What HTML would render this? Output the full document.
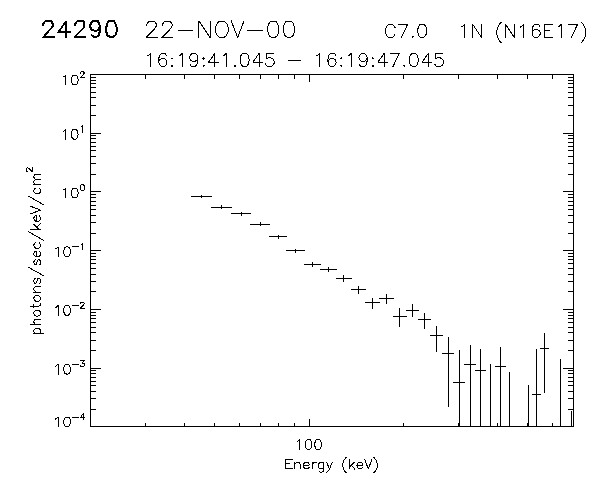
<!DOCTYPE html>
<html lang="en"><head><meta charset="utf-8"><title>24290 22-NOV-00 photon spectrum</title>
<style>
html,body{margin:0;padding:0;background:#fff;font-family:"Liberation Sans",sans-serif;}
body{width:600px;height:480px;overflow:hidden;}
svg{display:block;shape-rendering:crispEdges;}
svg path{fill:none;stroke:#000;stroke-width:1;stroke-linecap:square;stroke-linejoin:miter;}
svg .ax,svg .data{stroke-linecap:butt;}
svg .t path{stroke-linejoin:round;}
</style></head><body>
<svg width="600" height="480" viewBox="0 0 600 480" role="img" aria-label="Photon spectrum, photons/sec/keV/cm2 versus Energy (keV)">
<rect x="0" y="0" width="600" height="480" fill="#fff" stroke="none"/>
<path class="ax" d="M90 74.5H574 M90 426.5H574 M90.5 74V427 M573.5 74V427 M145.5 423V427 M145.5 74V79 M184.5 423V427 M184.5 74V79 M214.5 423V427 M214.5 74V79 M239.5 423V427 M239.5 74V79 M260.5 423V427 M260.5 74V79 M278.5 423V427 M278.5 74V79 M294.5 423V427 M294.5 74V79 M309.5 419V427 M309.5 74V82 M403.5 423V427 M403.5 74V79 M458.5 423V427 M458.5 74V79 M497.5 423V427 M497.5 74V79 M527.5 423V427 M527.5 74V79 M552.5 423V427 M552.5 74V79 M90 409.5H96 M568 409.5H574 M90 398.5H96 M568 398.5H574 M90 391.5H96 M568 391.5H574 M90 385.5H96 M568 385.5H574 M90 381.5H96 M568 381.5H574 M90 377.5H96 M568 377.5H574 M90 373.5H96 M568 373.5H574 M90 370.5H96 M568 370.5H574 M90 368.5H101 M563 368.5H574 M90 350.5H96 M568 350.5H574 M90 340.5H96 M568 340.5H574 M90 332.5H96 M568 332.5H574 M90 327.5H96 M568 327.5H574 M90 322.5H96 M568 322.5H574 M90 318.5H96 M568 318.5H574 M90 315.5H96 M568 315.5H574 M90 312.5H96 M568 312.5H574 M90 309.5H101 M563 309.5H574 M90 291.5H96 M568 291.5H574 M90 281.5H96 M568 281.5H574 M90 274.5H96 M568 274.5H574 M90 268.5H96 M568 268.5H574 M90 263.5H96 M568 263.5H574 M90 259.5H96 M568 259.5H574 M90 256.5H96 M568 256.5H574 M90 253.5H96 M568 253.5H574 M90 250.5H101 M563 250.5H574 M90 233.5H96 M568 233.5H574 M90 222.5H96 M568 222.5H574 M90 215.5H96 M568 215.5H574 M90 209.5H96 M568 209.5H574 M90 205.5H96 M568 205.5H574 M90 201.5H96 M568 201.5H574 M90 197.5H96 M568 197.5H574 M90 194.5H96 M568 194.5H574 M90 191.5H101 M563 191.5H574 M90 174.5H96 M568 174.5H574 M90 163.5H96 M568 163.5H574 M90 156.5H96 M568 156.5H574 M90 150.5H96 M568 150.5H574 M90 146.5H96 M568 146.5H574 M90 142.5H96 M568 142.5H574 M90 138.5H96 M568 138.5H574 M90 135.5H96 M568 135.5H574 M90 133.5H101 M563 133.5H574 M90 115.5H96 M568 115.5H574 M90 105.5H96 M568 105.5H574 M90 97.5H96 M568 97.5H574 M90 92.5H96 M568 92.5H574 M90 87.5H96 M568 87.5H574 M90 83.5H96 M568 83.5H574 M90 80.5H96 M568 80.5H574 M90 77.5H96 M568 77.5H574"/>
<path class="data" d="M191 196.5H212 M201.5 195V198 M211 207.5H232 M221.5 205V209 M231 213.5H251 M241.5 212V216 M250 224.5H270 M260.5 222V226 M269 236.5H287 M278.5 235V239 M286 250.5H305 M295.5 249V253 M304 264.5H321 M312.5 262V267 M320 269.5H337 M328.5 267V272 M336 278.5H352 M343.5 275V282 M351 289.5H366 M358.5 286V294 M365 302.5H380 M372.5 298V309 M379 298.5H394 M386.5 294V304 M393 316.5H407 M399.5 308V327 M406 310.5H419 M412.5 304V317 M418 319.5H431 M424.5 313V329 M430 335.5H443 M436.5 326V352 M442 353.5H454 M448.5 337V407 M453 382.5H465 M459.5 350V427 M464 364.5H476 M470.5 345V427 M475 370.5H486 M480.5 349V427 M490.5 364V427 M495 366.5H506 M500.5 347V427 M509.5 372V427 M528.5 385V427 M532 394.5H541 M536.5 349V427 M540 348.5H549 M544.5 333V393 M560.5 359V427 M571.5 411V427"/>
<g class="t" role="img" aria-label="24290"><title>24290</title><path d="M43.5 25.5L43.5 24.5M42.5 25.5L42.5 24.5M43.5 24.5L44.5 22.5M42.5 24.5L43.5 22.5M44.5 22.5L45.5 21.5M44.5 21.5L45.5 20.5M45.5 21.5L47.5 21.5M45.5 20.5L47.5 20.5M47.5 21.5L50.5 21.5M47.5 20.5L50.5 20.5M50.5 21.5L51.5 21.5M50.5 20.5L51.5 20.5M51.5 21.5L52.5 22.5M51.5 20.5L52.5 21.5M52.5 22.5L53.5 24.5M51.5 22.5L52.5 24.5M53.5 24.5L53.5 25.5M52.5 24.5L52.5 25.5M53.5 25.5L52.5 27.5M52.5 25.5L51.5 27.5M52.5 27.5L50.5 29.5M52.5 26.5L50.5 28.5M50.5 29.5L43.5 37.5M49.5 29.5L42.5 37.5M43.5 37.5L54.5 37.5M43.5 36.5L54.5 36.5M66.5 21.5L58.5 32.5M65.5 21.5L57.5 32.5M58.5 32.5L70.5 32.5M58.5 31.5L70.5 31.5M66.5 21.5L66.5 37.5M65.5 21.5L65.5 37.5M75.5 25.5L75.5 24.5M74.5 25.5L74.5 24.5M75.5 24.5L76.5 22.5M74.5 24.5L75.5 22.5M76.5 22.5L77.5 21.5M76.5 21.5L77.5 20.5M77.5 21.5L78.5 21.5M77.5 20.5L78.5 20.5M78.5 21.5L81.5 21.5M78.5 20.5L81.5 20.5M81.5 21.5L83.5 21.5M81.5 20.5L83.5 20.5M83.5 21.5L84.5 22.5M83.5 20.5L84.5 21.5M84.5 22.5L84.5 24.5M83.5 22.5L83.5 24.5M84.5 24.5L84.5 25.5M83.5 24.5L83.5 25.5M84.5 25.5L84.5 27.5M83.5 25.5L83.5 27.5M84.5 27.5L82.5 29.5M84.5 26.5L82.5 28.5M82.5 29.5L74.5 37.5M82.5 28.5L74.5 36.5M74.5 37.5L85.5 37.5M74.5 36.5L85.5 36.5M100.5 26.5L99.5 28.5M99.5 26.5L98.5 28.5M99.5 28.5L98.5 30.5M98.5 28.5L97.5 30.5M98.5 30.5L95.5 31.5M98.5 29.5L95.5 30.5M95.5 31.5L92.5 30.5M95.5 30.5L92.5 29.5M92.5 30.5L91.5 28.5M91.5 30.5L90.5 28.5M91.5 28.5L90.5 26.5M90.5 28.5L89.5 26.5M90.5 26.5L90.5 25.5M89.5 26.5L89.5 25.5M90.5 25.5L91.5 23.5M89.5 25.5L90.5 23.5M91.5 23.5L92.5 21.5M90.5 23.5L91.5 21.5M92.5 21.5L95.5 21.5M92.5 20.5L95.5 20.5M95.5 21.5L98.5 21.5M95.5 20.5L98.5 20.5M98.5 21.5L99.5 23.5M97.5 21.5L98.5 23.5M99.5 23.5L100.5 26.5M98.5 23.5L99.5 26.5M100.5 26.5L100.5 30.5M99.5 26.5L99.5 30.5M100.5 30.5L99.5 34.5M99.5 30.5L98.5 34.5M99.5 34.5L98.5 36.5M98.5 34.5L97.5 36.5M98.5 36.5L95.5 37.5M98.5 35.5L95.5 36.5M95.5 37.5L94.5 37.5M95.5 36.5L94.5 36.5M94.5 37.5L92.5 36.5M94.5 36.5L92.5 35.5M92.5 36.5L91.5 35.5M92.5 35.5L91.5 34.5M110.5 21.5L108.5 21.5M110.5 20.5L108.5 20.5M108.5 21.5L107.5 24.5M107.5 21.5L106.5 24.5M107.5 24.5L106.5 28.5M106.5 24.5L105.5 28.5M106.5 28.5L106.5 30.5M105.5 28.5L105.5 30.5M106.5 30.5L107.5 34.5M105.5 30.5L106.5 34.5M107.5 34.5L108.5 36.5M106.5 34.5L107.5 36.5M108.5 36.5L110.5 37.5M108.5 35.5L110.5 36.5M110.5 37.5L112.5 37.5M110.5 36.5L112.5 36.5M112.5 37.5L114.5 36.5M112.5 36.5L114.5 35.5M114.5 36.5L116.5 34.5M114.5 35.5L116.5 33.5M116.5 34.5L117.5 30.5M115.5 34.5L116.5 30.5M117.5 30.5L117.5 28.5M116.5 30.5L116.5 28.5M117.5 28.5L116.5 24.5M116.5 28.5L115.5 24.5M116.5 24.5L114.5 21.5M115.5 24.5L113.5 21.5M114.5 21.5L112.5 21.5M114.5 20.5L112.5 20.5M112.5 21.5L110.5 21.5M112.5 20.5L110.5 20.5"/></g>
<g class="t" role="img" aria-label="22-NOV-00"><title>22-NOV-00</title><path d="M146.86 25 L146.86 24.22 L147.65 22.66 L148.44 21.88 L150.02 21.09 L153.17 21.09 L154.75 21.88 L155.54 22.66 L156.33 24.22 L156.33 25.78 L155.54 27.34 L153.96 29.69 L146.07 37.5 L157.12 37.5 M162.65 25 L162.65 24.22 L163.44 22.66 L164.23 21.88 L165.81 21.09 L168.96 21.09 L170.54 21.88 L171.33 22.66 L172.12 24.22 L172.12 25.78 L171.33 27.34 L169.75 29.69 L161.86 37.5 L172.91 37.5 M178.44 30.47 L192.65 30.47 M198.96 21.09 L198.96 37.5 M198.96 21.09 L210.02 37.5 M210.02 21.09 L210.02 37.5 M220.28 21.09 L218.7 21.88 L217.12 23.44 L216.33 25 L215.54 27.34 L215.54 31.25 L216.33 33.59 L217.12 35.16 L218.7 36.72 L220.28 37.5 L223.44 37.5 L225.02 36.72 L226.59 35.16 L227.38 33.59 L228.17 31.25 L228.17 27.34 L227.38 25 L226.59 23.44 L225.02 21.88 L223.44 21.09Z M231.33 21.09 L237.65 37.5 M243.96 21.09 L237.65 37.5 M247.91 30.47 L262.12 30.47 M272.38 21.09 L270.02 21.88 L268.44 24.22 L267.65 28.12 L267.65 30.47 L268.44 34.38 L270.02 36.72 L272.38 37.5 L273.96 37.5 L276.33 36.72 L277.91 34.38 L278.7 30.47 L278.7 28.12 L277.91 24.22 L276.33 21.88 L273.96 21.09Z M288.17 21.09 L285.81 21.88 L284.23 24.22 L283.44 28.12 L283.44 30.47 L284.23 34.38 L285.81 36.72 L288.17 37.5 L289.75 37.5 L292.12 36.72 L293.7 34.38 L294.49 30.47 L294.49 28.12 L293.7 24.22 L292.12 21.88 L289.75 21.09Z"/></g>
<g class="t" role="img" aria-label="C7.0"><title>C7.0</title><path d="M394.97 27.5 L394.34 26.25 L393.07 25 L391.81 24.38 L389.28 24.38 L388.02 25 L386.76 26.25 L386.13 27.5 L385.49 29.38 L385.49 32.5 L386.13 34.38 L386.76 35.62 L388.02 36.88 L389.28 37.5 L391.81 37.5 L393.07 36.88 L394.34 35.62 L394.97 34.38 M407.6 24.38 L401.28 37.5 M398.76 24.38 L407.6 24.38 M412.65 36.25 L412.02 36.88 L412.65 37.5 L413.28 36.88Z M421.49 24.38 L419.6 25 L418.34 26.88 L417.71 30 L417.71 31.88 L418.34 35 L419.6 36.88 L421.49 37.5 L422.76 37.5 L424.65 36.88 L425.92 35 L426.55 31.88 L426.55 30 L425.92 26.88 L424.65 25 L422.76 24.38Z"/></g>
<g class="t" role="img" aria-label="1N (N16E17)"><title>1N (N16E17)</title><path d="M461.34 26.88 L462.61 26.25 L464.5 24.38 L464.5 37.5 M472.71 24.38 L472.71 37.5 M472.71 24.38 L481.55 37.5 M481.55 24.38 L481.55 37.5 M501.13 22.5 L499.87 23.75 L498.61 25.62 L497.34 28.12 L496.71 31.25 L496.71 33.75 L497.34 36.88 L498.61 39.38 L499.87 41.25 L501.13 42.5 M505.55 24.38 L505.55 37.5 M505.55 24.38 L514.39 37.5 M514.39 24.38 L514.39 37.5 M520.71 26.88 L521.97 26.25 L523.87 24.38 L523.87 37.5 M539.66 26.25 L539.03 25 L537.13 24.38 L535.87 24.38 L533.97 25 L532.71 26.88 L532.08 30 L532.08 33.12 L532.71 35.62 L533.97 36.88 L535.87 37.5 L536.5 37.5 L538.39 36.88 L539.66 35.62 L540.29 33.75 L540.29 33.12 L539.66 31.25 L538.39 30 L536.5 29.38 L535.87 29.38 L533.97 30 L532.71 31.25 L532.08 33.12 M544.71 24.38 L544.71 37.5 M544.71 24.38 L552.92 24.38 M544.71 30.62 L549.76 30.62 M544.71 37.5 L552.92 37.5 M557.97 26.88 L559.24 26.25 L561.13 24.38 L561.13 37.5 M577.55 24.38 L571.24 37.5 M568.71 24.38 L577.55 24.38 M581.34 22.5 L582.61 23.75 L583.87 25.62 L585.13 28.12 L585.76 31.25 L585.76 33.75 L585.13 36.88 L583.87 39.38 L582.61 41.25 L581.34 42.5"/></g>
<g class="t" role="img" aria-label="16:19:41.045 - 16:19:47.045"><title>16:19:41.045 - 16:19:47.045</title><path d="M147.34 55.88 L148.61 55.25 L150.5 53.38 L150.5 66.5 M166.29 55.25 L165.66 54 L163.76 53.38 L162.5 53.38 L160.61 54 L159.34 55.88 L158.71 59 L158.71 62.12 L159.34 64.62 L160.61 65.88 L162.5 66.5 L163.13 66.5 L165.03 65.88 L166.29 64.62 L166.92 62.75 L166.92 62.12 L166.29 60.25 L165.03 59 L163.13 58.38 L162.5 58.38 L160.61 59 L159.34 60.25 L158.71 62.12 M171.97 57.75 L171.34 58.38 L171.97 59 L172.61 58.38Z M171.97 65.25 L171.34 65.88 L171.97 66.5 L172.61 65.88Z M178.92 55.88 L180.18 55.25 L182.08 53.38 L182.08 66.5 M197.87 57.75 L197.24 59.62 L195.97 60.88 L194.08 61.5 L193.45 61.5 L191.55 60.88 L190.29 59.62 L189.66 57.75 L189.66 57.12 L190.29 55.25 L191.55 54 L193.45 53.38 L194.08 53.38 L195.97 54 L197.24 55.25 L197.87 57.75 L197.87 60.88 L197.24 64 L195.97 65.88 L194.08 66.5 L192.82 66.5 L190.92 65.88 L190.29 64.62 M203.55 57.75 L202.92 58.38 L203.55 59 L204.18 58.38Z M203.55 65.25 L202.92 65.88 L203.55 66.5 L204.18 65.88Z M214.92 53.38 L208.61 62.12 L218.08 62.12 M214.92 53.38 L214.92 66.5 M223.13 55.88 L224.39 55.25 L226.29 53.38 L226.29 66.5 M235.13 65.25 L234.5 65.88 L235.13 66.5 L235.76 65.88Z M243.97 53.38 L242.08 54 L240.82 55.88 L240.18 59 L240.18 60.88 L240.82 64 L242.08 65.88 L243.97 66.5 L245.24 66.5 L247.13 65.88 L248.39 64 L249.03 60.88 L249.03 59 L248.39 55.88 L247.13 54 L245.24 53.38Z M259.13 53.38 L252.82 62.12 L262.29 62.12 M259.13 53.38 L259.13 66.5 M273.03 53.38 L266.71 53.38 L266.08 59 L266.71 58.38 L268.61 57.75 L270.5 57.75 L272.39 58.38 L273.66 59.62 L274.29 61.5 L274.29 62.75 L273.66 64.62 L272.39 65.88 L270.5 66.5 L268.61 66.5 L266.71 65.88 L266.08 65.25 L265.45 64 M288.82 60.88 L300.18 60.88 M316.61 55.88 L317.87 55.25 L319.76 53.38 L319.76 66.5 M335.55 55.25 L334.92 54 L333.03 53.38 L331.76 53.38 L329.87 54 L328.61 55.88 L327.97 59 L327.97 62.12 L328.61 64.62 L329.87 65.88 L331.76 66.5 L332.39 66.5 L334.29 65.88 L335.55 64.62 L336.18 62.75 L336.18 62.12 L335.55 60.25 L334.29 59 L332.39 58.38 L331.76 58.38 L329.87 59 L328.61 60.25 L327.97 62.12 M341.24 57.75 L340.61 58.38 L341.24 59 L341.87 58.38Z M341.24 65.25 L340.61 65.88 L341.24 66.5 L341.87 65.88Z M348.18 55.88 L349.45 55.25 L351.34 53.38 L351.34 66.5 M367.13 57.75 L366.5 59.62 L365.24 60.88 L363.34 61.5 L362.71 61.5 L360.82 60.88 L359.55 59.62 L358.92 57.75 L358.92 57.12 L359.55 55.25 L360.82 54 L362.71 53.38 L363.34 53.38 L365.24 54 L366.5 55.25 L367.13 57.75 L367.13 60.88 L366.5 64 L365.24 65.88 L363.34 66.5 L362.08 66.5 L360.18 65.88 L359.55 64.62 M372.82 57.75 L372.18 58.38 L372.82 59 L373.45 58.38Z M372.82 65.25 L372.18 65.88 L372.82 66.5 L373.45 65.88Z M384.18 53.38 L377.87 62.12 L387.34 62.12 M384.18 53.38 L384.18 66.5 M399.34 53.38 L393.03 66.5 M390.5 53.38 L399.34 53.38 M404.39 65.25 L403.76 65.88 L404.39 66.5 L405.03 65.88Z M413.24 53.38 L411.34 54 L410.08 55.88 L409.45 59 L409.45 60.88 L410.08 64 L411.34 65.88 L413.24 66.5 L414.5 66.5 L416.39 65.88 L417.66 64 L418.29 60.88 L418.29 59 L417.66 55.88 L416.39 54 L414.5 53.38Z M428.39 53.38 L422.08 62.12 L431.55 62.12 M428.39 53.38 L428.39 66.5 M442.29 53.38 L435.97 53.38 L435.34 59 L435.97 58.38 L437.87 57.75 L439.76 57.75 L441.66 58.38 L442.92 59.62 L443.55 61.5 L443.55 62.75 L442.92 64.62 L441.66 65.88 L439.76 66.5 L437.87 66.5 L435.97 65.88 L435.34 65.25 L434.71 64"/></g>
<g class="t" role="img" aria-label="10^2"><title>10^2</title><path d="M63.32 76.93 L64.27 76.46 L65.69 75.06 L65.69 84.9 M74.22 75.06 L72.79 75.53 L71.85 76.93 L71.37 79.28 L71.37 80.68 L71.85 83.03 L72.79 84.43 L74.22 84.9 L75.16 84.9 L76.58 84.43 L77.53 83.03 L78.01 80.68 L78.01 79.28 L77.53 76.93 L76.58 75.53 L75.16 75.06Z M80.6 73.05 L80.6 72.76 L80.89 72.18 L81.19 71.89 L81.78 71.6 L82.95 71.6 L83.54 71.89 L83.83 72.18 L84.13 72.76 L84.13 73.34 L83.83 73.92 L83.24 74.79 L80.31 77.7 L84.42 77.7"/></g>
<g class="t" role="img" aria-label="10^1"><title>10^1</title><path d="M63.32 131.27 L64.27 130.8 L65.69 129.4 L65.69 139.24 M74.22 129.4 L72.79 129.87 L71.85 131.27 L71.37 133.62 L71.37 135.02 L71.85 137.37 L72.79 138.77 L74.22 139.24 L75.16 139.24 L76.58 138.77 L77.53 137.37 L78.01 135.02 L78.01 133.62 L77.53 131.27 L76.58 129.87 L75.16 129.4Z M81.19 127.1 L81.78 126.81 L82.66 125.94 L82.66 132.04"/></g>
<g class="t" role="img" aria-label="10^0"><title>10^0</title><path d="M63.32 189.97 L64.27 189.5 L65.69 188.1 L65.69 197.94 M74.22 188.1 L72.79 188.56 L71.85 189.97 L71.37 192.31 L71.37 193.72 L71.85 196.06 L72.79 197.47 L74.22 197.94 L75.16 197.94 L76.58 197.47 L77.53 196.06 L78.01 193.72 L78.01 192.31 L77.53 189.97 L76.58 188.56 L75.16 188.1Z M82.07 184.64 L81.19 184.93 L80.6 185.8 L80.31 187.25 L80.31 188.12 L80.6 189.58 L81.19 190.45 L82.07 190.74 L82.66 190.74 L83.54 190.45 L84.13 189.58 L84.42 188.12 L84.42 187.25 L84.13 185.8 L83.54 184.93 L82.66 184.64Z"/></g>
<g class="t" role="img" aria-label="10^-1"><title>10^-1</title><path d="M55.69 248.67 L56.63 248.2 L58.05 246.8 L58.05 256.64 M66.58 246.8 L65.16 247.27 L64.21 248.67 L63.74 251.02 L63.74 252.42 L64.21 254.77 L65.16 256.17 L66.58 256.64 L67.53 256.64 L68.95 256.17 L69.9 254.77 L70.37 252.42 L70.37 251.02 L69.9 248.67 L68.95 247.27 L67.53 246.8Z M72.97 246.82 L78.25 246.82 M81.19 244.5 L81.78 244.21 L82.66 243.34 L82.66 249.44"/></g>
<g class="t" role="img" aria-label="10^-2"><title>10^-2</title><path d="M55.69 307.37 L56.63 306.9 L58.05 305.5 L58.05 315.34 M66.58 305.5 L65.16 305.96 L64.21 307.37 L63.74 309.71 L63.74 311.12 L64.21 313.46 L65.16 314.87 L66.58 315.34 L67.53 315.34 L68.95 314.87 L69.9 313.46 L70.37 311.12 L70.37 309.71 L69.9 307.37 L68.95 305.96 L67.53 305.5Z M72.97 305.52 L78.25 305.52 M80.6 303.49 L80.6 303.2 L80.89 302.62 L81.19 302.33 L81.78 302.04 L82.95 302.04 L83.54 302.33 L83.83 302.62 L84.13 303.2 L84.13 303.78 L83.83 304.36 L83.24 305.23 L80.31 308.14 L84.42 308.14"/></g>
<g class="t" role="img" aria-label="10^-3"><title>10^-3</title><path d="M55.69 366.07 L56.63 365.6 L58.05 364.2 L58.05 374.04 M66.58 364.2 L65.16 364.67 L64.21 366.07 L63.74 368.42 L63.74 369.82 L64.21 372.17 L65.16 373.57 L66.58 374.04 L67.53 374.04 L68.95 373.57 L69.9 372.17 L70.37 369.82 L70.37 368.42 L69.9 366.07 L68.95 364.67 L67.53 364.2Z M72.97 364.22 L78.25 364.22 M80.89 360.74 L84.13 360.74 L82.36 363.06 L83.24 363.06 L83.83 363.35 L84.13 363.64 L84.42 364.52 L84.42 365.1 L84.13 365.97 L83.54 366.55 L82.66 366.84 L81.78 366.84 L80.89 366.55 L80.6 366.26 L80.31 365.68"/></g>
<g class="t" role="img" aria-label="10^-4"><title>10^-4</title><path d="M55.69 418.93 L56.63 418.46 L58.05 417.06 L58.05 426.9 M66.58 417.06 L65.16 417.52 L64.21 418.93 L63.74 421.27 L63.74 422.68 L64.21 425.02 L65.16 426.43 L66.58 426.9 L67.53 426.9 L68.95 426.43 L69.9 425.02 L70.37 422.68 L70.37 421.27 L69.9 418.93 L68.95 417.52 L67.53 417.06Z M72.97 417.08 L78.25 417.08 M83.24 413.6 L80.31 417.67 L84.71 417.67 M83.24 413.6 L83.24 419.7"/></g>
<g class="t" role="img" aria-label="100"><title>100</title><path d="M297.24 441.43 L298.19 440.96 L299.61 439.56 L299.61 449.4 M308.14 439.56 L306.72 440.02 L305.77 441.43 L305.29 443.77 L305.29 445.18 L305.77 447.52 L306.72 448.93 L308.14 449.4 L309.08 449.4 L310.51 448.93 L311.45 447.52 L311.93 445.18 L311.93 443.77 L311.45 441.43 L310.51 440.02 L309.08 439.56Z M317.61 439.56 L316.19 440.02 L315.24 441.43 L314.77 443.77 L314.77 445.18 L315.24 447.52 L316.19 448.93 L317.61 449.4 L318.56 449.4 L319.98 448.93 L320.93 447.52 L321.4 445.18 L321.4 443.77 L320.93 441.43 L319.98 440.02 L318.56 439.56Z"/></g>
<g class="t" role="img" aria-label="Energy (keV)"><title>Energy (keV)</title><path d="M285.89 459.06 L285.89 468.9 M285.89 459.06 L292.05 459.06 M285.89 463.74 L289.68 463.74 M285.89 468.9 L292.05 468.9 M294.89 462.34 L294.89 468.9 M294.89 464.21 L296.32 462.81 L297.26 462.34 L298.68 462.34 L299.63 462.81 L300.11 464.21 L300.11 468.9 M303.42 465.15 L309.11 465.15 L309.11 464.21 L308.63 463.27 L308.16 462.81 L307.21 462.34 L305.79 462.34 L304.84 462.81 L303.89 463.74 L303.42 465.15 L303.42 466.09 L303.89 467.49 L304.84 468.43 L305.79 468.9 L307.21 468.9 L308.16 468.43 L309.11 467.49 M312.42 462.34 L312.42 468.9 M312.42 465.15 L312.89 463.74 L313.84 462.81 L314.79 462.34 L316.21 462.34 M323.79 462.34 L323.79 469.84 L323.32 471.24 L322.84 471.71 L321.89 472.18 L320.47 472.18 L319.53 471.71 M323.79 463.74 L322.84 462.81 L321.89 462.34 L320.47 462.34 L319.53 462.81 L318.58 463.74 L318.11 465.15 L318.11 466.09 L318.58 467.49 L319.53 468.43 L320.47 468.9 L321.89 468.9 L322.84 468.43 L323.79 467.49 M326.63 462.34 L329.47 468.9 M332.32 462.34 L329.47 468.9 L328.53 470.77 L327.58 471.71 L326.63 472.18 L326.16 472.18 M346.05 457.65 L345.11 458.59 L344.16 459.99 L343.21 461.87 L342.74 464.21 L342.74 466.09 L343.21 468.43 L344.16 470.31 L345.11 471.71 L346.05 472.65 M349.37 459.06 L349.37 468.9 M354.11 462.34 L349.37 467.02 M351.26 465.15 L354.58 468.9 M356.95 465.15 L362.63 465.15 L362.63 464.21 L362.16 463.27 L361.68 462.81 L360.74 462.34 L359.32 462.34 L358.37 462.81 L357.42 463.74 L356.95 465.15 L356.95 466.09 L357.42 467.49 L358.37 468.43 L359.32 468.9 L360.74 468.9 L361.68 468.43 L362.63 467.49 M364.53 459.06 L368.32 468.9 M372.11 459.06 L368.32 468.9 M374 457.65 L374.95 458.59 L375.89 459.99 L376.84 461.87 L377.32 464.21 L377.32 466.09 L376.84 468.43 L375.89 470.31 L374.95 471.71 L374 472.65"/></g>
<g class="t" role="img" aria-label="photons/sec/keV/cm^2"><title>photons/sec/keV/cm^2</title><path d="M33.94 333.71 L43.78 333.71 M35.34 333.71 L34.41 332.76 L33.94 331.81 L33.94 330.39 L34.41 329.44 L35.34 328.49 L36.75 328.02 L37.69 328.02 L39.09 328.49 L40.03 329.44 L40.5 330.39 L40.5 331.81 L40.03 332.76 L39.09 333.71 M30.66 324.71 L40.5 324.71 M35.81 324.71 L34.41 323.28 L33.94 322.34 L33.94 320.92 L34.41 319.97 L35.81 319.49 L40.5 319.49 M33.94 313.81 L34.41 314.76 L35.34 315.71 L36.75 316.18 L37.69 316.18 L39.09 315.71 L40.03 314.76 L40.5 313.81 L40.5 312.39 L40.03 311.44 L39.09 310.49 L37.69 310.02 L36.75 310.02 L35.34 310.49 L34.41 311.44 L33.94 312.39Z M30.66 306.23 L38.62 306.23 L40.03 305.76 L40.5 304.81 L40.5 303.86 M33.94 307.65 L33.94 304.34 M33.94 299.13 L34.41 300.07 L35.34 301.02 L36.75 301.49 L37.69 301.49 L39.09 301.02 L40.03 300.07 L40.5 299.13 L40.5 297.71 L40.03 296.76 L39.09 295.81 L37.69 295.34 L36.75 295.34 L35.34 295.81 L34.41 296.76 L33.94 297.71Z M33.94 292.02 L40.5 292.02 M35.81 292.02 L34.41 290.6 L33.94 289.65 L33.94 288.23 L34.41 287.28 L35.81 286.81 L40.5 286.81 M35.34 278.28 L34.41 278.76 L33.94 280.18 L33.94 281.6 L34.41 283.02 L35.34 283.49 L36.28 283.02 L36.75 282.07 L37.22 279.71 L37.69 278.76 L38.62 278.28 L39.09 278.28 L40.03 278.76 L40.5 280.18 L40.5 281.6 L40.03 283.02 L39.09 283.49 M28.78 267.39 L43.78 275.92 M35.34 259.81 L34.41 260.28 L33.94 261.71 L33.94 263.13 L34.41 264.55 L35.34 265.02 L36.28 264.55 L36.75 263.6 L37.22 261.23 L37.69 260.28 L38.62 259.81 L39.09 259.81 L40.03 260.28 L40.5 261.71 L40.5 263.13 L40.03 264.55 L39.09 265.02 M36.75 256.97 L36.75 251.28 L35.81 251.28 L34.88 251.76 L34.41 252.23 L33.94 253.18 L33.94 254.6 L34.41 255.55 L35.34 256.49 L36.75 256.97 L37.69 256.97 L39.09 256.49 L40.03 255.55 L40.5 254.6 L40.5 253.18 L40.03 252.23 L39.09 251.28 M35.34 242.76 L34.41 243.71 L33.94 244.65 L33.94 246.07 L34.41 247.02 L35.34 247.97 L36.75 248.44 L37.69 248.44 L39.09 247.97 L40.03 247.02 L40.5 246.07 L40.5 244.65 L40.03 243.71 L39.09 242.76 M28.78 231.86 L43.78 240.39 M30.66 229.02 L40.5 229.02 M33.94 224.28 L38.62 229.02 M36.75 227.13 L40.5 223.81 M36.75 221.44 L36.75 215.76 L35.81 215.76 L34.88 216.23 L34.41 216.71 L33.94 217.65 L33.94 219.07 L34.41 220.02 L35.34 220.97 L36.75 221.44 L37.69 221.44 L39.09 220.97 L40.03 220.02 L40.5 219.07 L40.5 217.65 L40.03 216.71 L39.09 215.76 M30.66 213.86 L40.5 210.07 M30.66 206.28 L40.5 210.07 M28.78 196.34 L43.78 204.86 M35.34 188.28 L34.41 189.23 L33.94 190.18 L33.94 191.6 L34.41 192.55 L35.34 193.49 L36.75 193.97 L37.69 193.97 L39.09 193.49 L40.03 192.55 L40.5 191.6 L40.5 190.18 L40.03 189.23 L39.09 188.28 M33.94 184.97 L40.5 184.97 M35.81 184.97 L34.41 183.55 L33.94 182.6 L33.94 181.18 L34.41 180.23 L35.81 179.76 L40.5 179.76 M35.81 179.76 L34.41 178.34 L33.94 177.39 L33.94 175.97 L34.41 175.02 L35.81 174.55 L40.5 174.55 M27.75 171.48 L27.46 171.48 L26.88 171.18 L26.59 170.89 L26.3 170.3 L26.3 169.13 L26.59 168.54 L26.88 168.25 L27.46 167.95 L28.04 167.95 L28.62 168.25 L29.49 168.83 L32.4 171.77 L32.4 167.66"/></g>
</svg>
</body></html>
